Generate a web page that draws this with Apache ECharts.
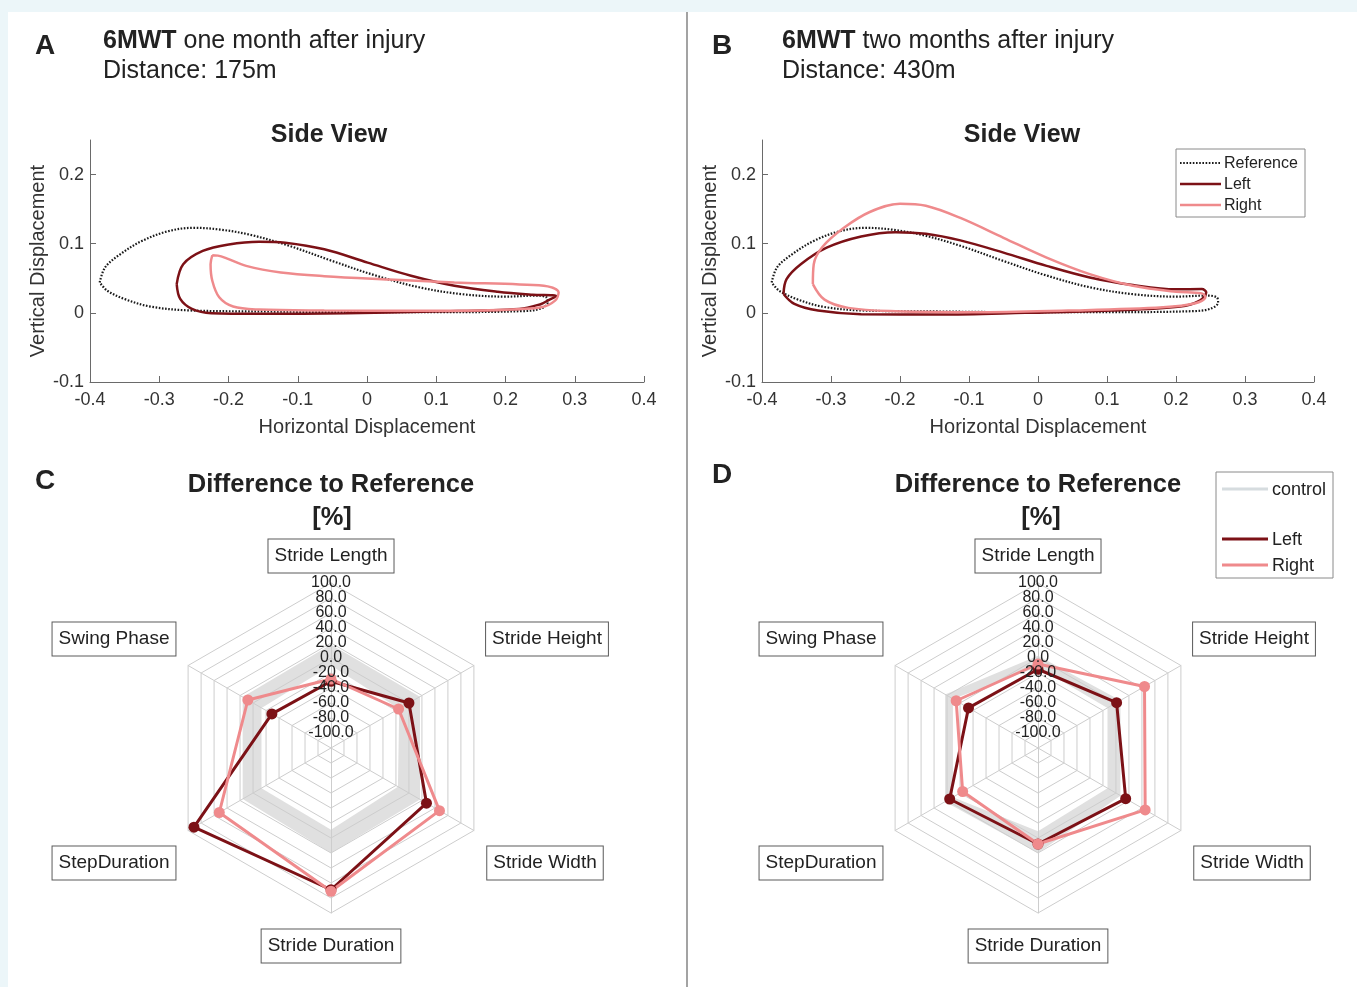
<!DOCTYPE html>
<html>
<head>
<meta charset="utf-8">
<script src="https://cdn.jsdelivr.net/npm/echarts@6/dist/echarts.min.js"></script>
<style>
  html, body { margin: 0; padding: 0; background: #ecf6f9; }
  #sheet { position: absolute; left: 8px; top: 12px; width: 1349px; height: 975px; background: #ffffff; }
  #chart { position: absolute; left: 0; top: 0; width: 1357px; height: 987px; }
</style>
</head>
<body>
<div id="sheet"></div>
<div id="chart"></div>
<script>
// ---------- Side view: foot trajectories [horizontal, vertical] ----------
const referencePath = [
  [-0.386, 0.044], [-0.378, 0.066], [-0.356, 0.085], [-0.325, 0.104], [-0.2875, 0.118],
  [-0.25, 0.123], [-0.2125, 0.1205], [-0.169, 0.113], [-0.1125, 0.097], [-0.05, 0.075],
  [0.0125, 0.054], [0.075, 0.037], [0.1375, 0.027], [0.2, 0.0235], [0.244, 0.025],
  [0.259, 0.0225], [0.261, 0.015], [0.25, 0.006], [0.225, 0.0025], [0.106, 0.001],
  [-0.019, 0.001], [-0.144, 0.002], [-0.256, 0.0035], [-0.3125, 0.009], [-0.35, 0.020],
  [-0.375, 0.032]
];
const leftPathA = [
  [-0.2748, 0.0416], [-0.2654, 0.0703], [-0.2372, 0.0895], [-0.1996, 0.099], [-0.1557, 0.1029],
  [-0.1181, 0.1014], [-0.0617, 0.0919], [0.0009, 0.0727], [0.0636, 0.0536], [0.1262, 0.0392],
  [0.1889, 0.0306], [0.239, 0.0263], [0.2735, 0.0244], [0.261, 0.0177], [0.2516, 0.0129],
  [0.2202, 0.0057], [0.0949, 0.0019], [-0.0304, -0.0005], [-0.1557, -0.0014], [-0.2246, -0.0005],
  [-0.2528, 0.0057], [-0.2697, 0.0201]
];
const rightPathA = [
  [-0.2234, 0.0833], [-0.2152, 0.0828], [-0.2027, 0.0789], [-0.1745, 0.0679], [-0.1244, 0.0584],
  [-0.0617, 0.0531], [0.0322, 0.0483], [0.1262, 0.044], [0.2202, 0.0411], [0.261, 0.0383],
  [0.2767, 0.0297], [0.2716, 0.0177], [0.2516, 0.0081], [0.1889, 0.0043], [0.0636, 0.0029],
  [-0.0617, 0.0033], [-0.1557, 0.0048], [-0.1933, 0.0091], [-0.2134, 0.0225], [-0.2234, 0.0464],
  [-0.2259, 0.0703]
];
const leftPathB = [
  [-0.3688, 0.0273], [-0.3644, 0.0488], [-0.3438, 0.0703], [-0.3063, 0.0943], [-0.2563, 0.1105],
  [-0.2063, 0.1167], [-0.1625, 0.1144], [-0.1125, 0.1048], [-0.05, 0.0871], [0.0125, 0.0679],
  [0.075, 0.0512], [0.1375, 0.0402], [0.2, 0.034], [0.2375, 0.0344], [0.2438, 0.0297],
  [0.2344, 0.0177], [0.2063, 0.0091], [0.1063, 0.0033], [-0.0188, 0], [-0.1438, -0.0024],
  [-0.2563, -0.0019], [-0.3188, 0.0033], [-0.3531, 0.0129]
];
const rightPathB = [
  [-0.3263, 0.0416], [-0.325, 0.0703], [-0.3125, 0.0952], [-0.2813, 0.123], [-0.2438, 0.1459],
  [-0.2, 0.1579], [-0.1625, 0.155], [-0.1125, 0.1373], [-0.05, 0.1086], [0.0125, 0.0799],
  [0.075, 0.056], [0.1375, 0.0392], [0.2, 0.0306], [0.2375, 0.0282], [0.2425, 0.0225],
  [0.2281, 0.0139], [0.1813, 0.0081], [0.0438, 0.0033], [-0.0813, 0.001], [-0.2063, 0.0024],
  [-0.275, 0.0072], [-0.3094, 0.0191]
];
const yTickValues = [-0.1, 0, 0.1, 0.2];

// ---------- Spider plots: difference to reference [%] ----------
// indicator order runs counter-clockwise from the top
const radarAxes = ['Stride Length', 'Swing Phase', 'StepDuration', 'Stride Duration', 'Stride Width', 'Stride Height'];
const ringTicks = [100, 80, 60, 40, 20, 0, -20, -40, -60, -80, -100];

const leftC       = [-31, -29, 91, 69, 27, 0];
const rightC      = [-28, 8, 52, 71, 47, -16];
const controlMinC = [-10, -13, -13, -11, -17, -15];
const controlMaxC = [18, 16, 16, 20, 17, 17];

const leftD       = [-15, -13, 16, 8, 15, 1];
const rightD      = [-8, 6, -4, 8, 45, 44];
const controlMinD = [-12, 11, 11, -9, -13, -13];
const controlMaxD = [3, 23, 23, 20, 7, 7];

// ---------- styling / layout ----------
const FONT = '"Liberation Sans", Arial, Helvetica, sans-serif';
const DARK = '#7c1116';
const LIGHT = '#ef8a8c';
const INK = '#222222';
const AXIS = '#6a6a6a';
const GRIDC = '#cdcdcd';
const BAND = '#e0e0e0';
const CONTROL_LINE = '#d6dcdf';

const RADAR_MIN = -120, RADAR_MAX = 100, RADAR_R = 165;
const radarCenters = [[331, 748], [1038, 748]];
// box centres of the axis names, relative to the radar centre (same order as radarAxes)
const nameOffsets = [[0, -192], [-217, -109], [-217, 115], [0, 198], [214, 115], [216, -109]];

function closeLoop(pts) { return pts.concat([pts[0]]); }
function fmtTick(v) { return String(parseFloat(v.toFixed(2))); }
function ringRadius(v) { return (v - RADAR_MIN) / (RADAR_MAX - RADAR_MIN) * RADAR_R; }

function xAxisFor(gi) {
  return {
    type: 'value', gridIndex: gi, min: -0.4, max: 0.4, interval: 0.1,
    axisLine: { onZero: false, lineStyle: { color: AXIS, width: 1 } },
    axisTick: { inside: true, length: 6, lineStyle: { color: AXIS } },
    axisLabel: { color: '#333', fontSize: 18, fontFamily: FONT, margin: 9, formatter: fmtTick },
    splitLine: { show: false },
    name: 'Horizontal Displacement', nameLocation: 'middle', nameGap: 35,
    nameTextStyle: { color: '#333', fontSize: 20, fontFamily: FONT }
  };
}
function yAxisFor(gi) {
  return {
    type: 'value', gridIndex: gi, min: -0.1, max: 0.25, interval: 0.1,
    axisLine: { onZero: false, lineStyle: { color: AXIS, width: 1 } },
    axisTick: { inside: true, length: 6, lineStyle: { color: AXIS }, customValues: yTickValues },
    axisLabel: { color: '#333', fontSize: 18, fontFamily: FONT, margin: 6, formatter: fmtTick, customValues: yTickValues },
    splitLine: { show: false },
    name: 'Vertical Displacement', nameLocation: 'middle', nameGap: 42, nameRotate: 90,
    nameTextStyle: { color: '#333', fontSize: 20, fontFamily: FONT }
  };
}
function pathSeries(name, gi, pts, color, width, dash, z) {
  return {
    type: 'line', name: name, xAxisIndex: gi, yAxisIndex: gi, data: closeLoop(pts),
    smooth: 0.35, symbol: 'none', z: z,
    lineStyle: { color: color, width: width, type: dash || 'solid' }
  };
}

function radarBase(ci, overlay) {
  return {
    center: radarCenters[ci], radius: RADAR_R, startAngle: 90, splitNumber: 11, shape: 'polygon',
    z: overlay ? 3 : 0,
    indicator: radarAxes.map(n => ({ name: n, min: RADAR_MIN, max: RADAR_MAX })),
    axisName: { show: false },
    axisLabel: { show: false }, axisTick: { show: false },
    splitArea: { show: false },
    splitLine: { show: overlay, lineStyle: { color: GRIDC, width: 1 } },
    axisLine: { show: overlay, lineStyle: { color: GRIDC, width: 1 } }
  };
}
function bandSeries(radarIndex, values, fill, z) {
  return {
    type: 'radar', name: 'control', radarIndex: radarIndex, z: z, silent: true,
    symbol: 'none', itemStyle: { color: CONTROL_LINE },
    lineStyle: { width: 0, opacity: 0 },
    areaStyle: { color: fill, opacity: 1 },
    data: [{ value: values }]
  };
}
function sideSeries(name, radarIndex, values, color) {
  return {
    type: 'radar', name: name, radarIndex: radarIndex, z: 4,
    symbol: 'circle', symbolSize: 11,
    itemStyle: { color: color },
    lineStyle: { color: color, width: 3 },
    data: [{ value: values }]
  };
}

// ---------- text and annotation graphics ----------
const graphics = [];
function txt(x, y, text, size, opts) {
  opts = opts || {};
  const style = {
    text: text, x: 0, y: 0,
    font: (opts.bold ? 'bold ' : '') + size + 'px ' + FONT,
    fill: opts.fill || INK,
    align: opts.align || 'left', textAlign: opts.align || 'left',
    verticalAlign: 'middle', textVerticalAlign: 'middle'
  };
  if (opts.rich) style.rich = opts.rich;
  if (opts.box) {
    style.backgroundColor = '#ffffff';
    style.borderColor = '#5a5a5a';
    style.borderWidth = 1;
    style.padding = [7, 6, 7, 6];
  }
  graphics.push({ type: 'text', x: x, y: y, z: opts.z || 10, silent: true, style: style });
}
function seg(x1, y1, x2, y2, color, width, dash) {
  graphics.push({
    type: 'line', z: 10, silent: true,
    shape: { x1: x1, y1: y1, x2: x2, y2: y2 },
    style: { stroke: color, lineWidth: width, lineDash: dash || null }
  });
}
function box(x, y, w, h, color) {
  graphics.push({
    type: 'rect', z: 9, silent: true, shape: { x: x, y: y, width: w, height: h },
    style: { fill: '#ffffff', stroke: color, lineWidth: 1 }
  });
}

const boldRich = { b: { fontWeight: 'bold', fontSize: 25, fontFamily: FONT, fill: INK } };

// panel divider
seg(687, 12, 687, 987, '#a3a3a3', 2);

// panel headers
txt(35, 46, 'A', 28, { bold: true });
txt(103, 41, '{b|6MWT} one month after injury', 25, { rich: boldRich });
txt(103, 71, 'Distance: 175m', 25);
txt(712, 46, 'B', 28, { bold: true });
txt(782, 41, '{b|6MWT} two months after injury', 25, { rich: boldRich });
txt(782, 71, 'Distance: 430m', 25);
txt(329, 135, 'Side View', 25, { bold: true, align: 'center' });
txt(1022, 135, 'Side View', 25, { bold: true, align: 'center' });

txt(35, 481, 'C', 28, { bold: true });
txt(712, 475, 'D', 28, { bold: true });
txt(331, 485, 'Difference to Reference', 25.5, { bold: true, align: 'center' });
txt(332, 518, '[%]', 25.5, { bold: true, align: 'center' });
txt(1038, 485, 'Difference to Reference', 25.5, { bold: true, align: 'center' });
txt(1041, 518, '[%]', 25.5, { bold: true, align: 'center' });

// legend of the side views
box(1176, 149, 129, 68, '#8a8a8a');
seg(1180, 163, 1221, 163, '#1a1a1a', 2, [1.6, 1.6]);
seg(1180, 184, 1221, 184, DARK, 2.5);
seg(1180, 205, 1221, 205, LIGHT, 2.5);
txt(1224, 164, 'Reference', 16);
txt(1224, 185, 'Left', 16);
txt(1224, 206, 'Right', 16);

// legend of the spider plots
box(1216, 472, 117, 106, '#8a8a8a');
seg(1222, 489, 1268, 489, CONTROL_LINE, 3);
seg(1222, 539, 1268, 539, DARK, 3);
seg(1222, 565, 1268, 565, LIGHT, 3);
txt(1272, 490, 'control', 18);
txt(1272, 540, 'Left', 18);
txt(1272, 566, 'Right', 18);

// ring values and axis names of both spider plots
radarCenters.forEach(function (c) {
  ringTicks.forEach(function (v) {
    txt(c[0], c[1] - ringRadius(v), v.toFixed(1), 16, { align: 'center', z: 11 });
  });
  radarAxes.forEach(function (name, i) {
    txt(c[0] + nameOffsets[i][0], c[1] + nameOffsets[i][1], name, 19, { align: 'center', box: true, z: 11 });
  });
});

const option = {
  animation: false,
  backgroundColor: 'transparent',
  grid: [
    { left: 90, top: 140, width: 554, height: 242 },
    { left: 762, top: 140, width: 552, height: 242 }
  ],
  xAxis: [xAxisFor(0), xAxisFor(1)],
  yAxis: [yAxisFor(0), yAxisFor(1)],
  radar: [radarBase(0, false), radarBase(0, true), radarBase(1, false), radarBase(1, true)],
  graphic: { elements: graphics },
  series: [
    pathSeries('Reference', 0, referencePath, '#1a1a1a', 2.2, [1.6, 1.6], 2),
    pathSeries('Left', 0, leftPathA, DARK, 2.5, null, 3),
    pathSeries('Right', 0, rightPathA, LIGHT, 2.5, null, 4),
    pathSeries('Reference', 1, referencePath, '#1a1a1a', 2.2, [1.6, 1.6], 2),
    pathSeries('Left', 1, leftPathB, DARK, 2.5, null, 3),
    pathSeries('Right', 1, rightPathB, LIGHT, 2.5, null, 4),

    bandSeries(0, controlMaxC, BAND, 1),
    bandSeries(0, controlMinC, '#ffffff', 2),
    sideSeries('Left', 1, leftC, DARK),
    sideSeries('Right', 1, rightC, LIGHT),

    bandSeries(2, controlMaxD, BAND, 1),
    bandSeries(2, controlMinD, '#ffffff', 2),
    sideSeries('Left', 3, leftD, DARK),
    sideSeries('Right', 3, rightD, LIGHT)
  ]
};

const chart = echarts.init(document.getElementById('chart'), null, { renderer: 'canvas' });
chart.setOption(option);
</script>
</body>
</html>
